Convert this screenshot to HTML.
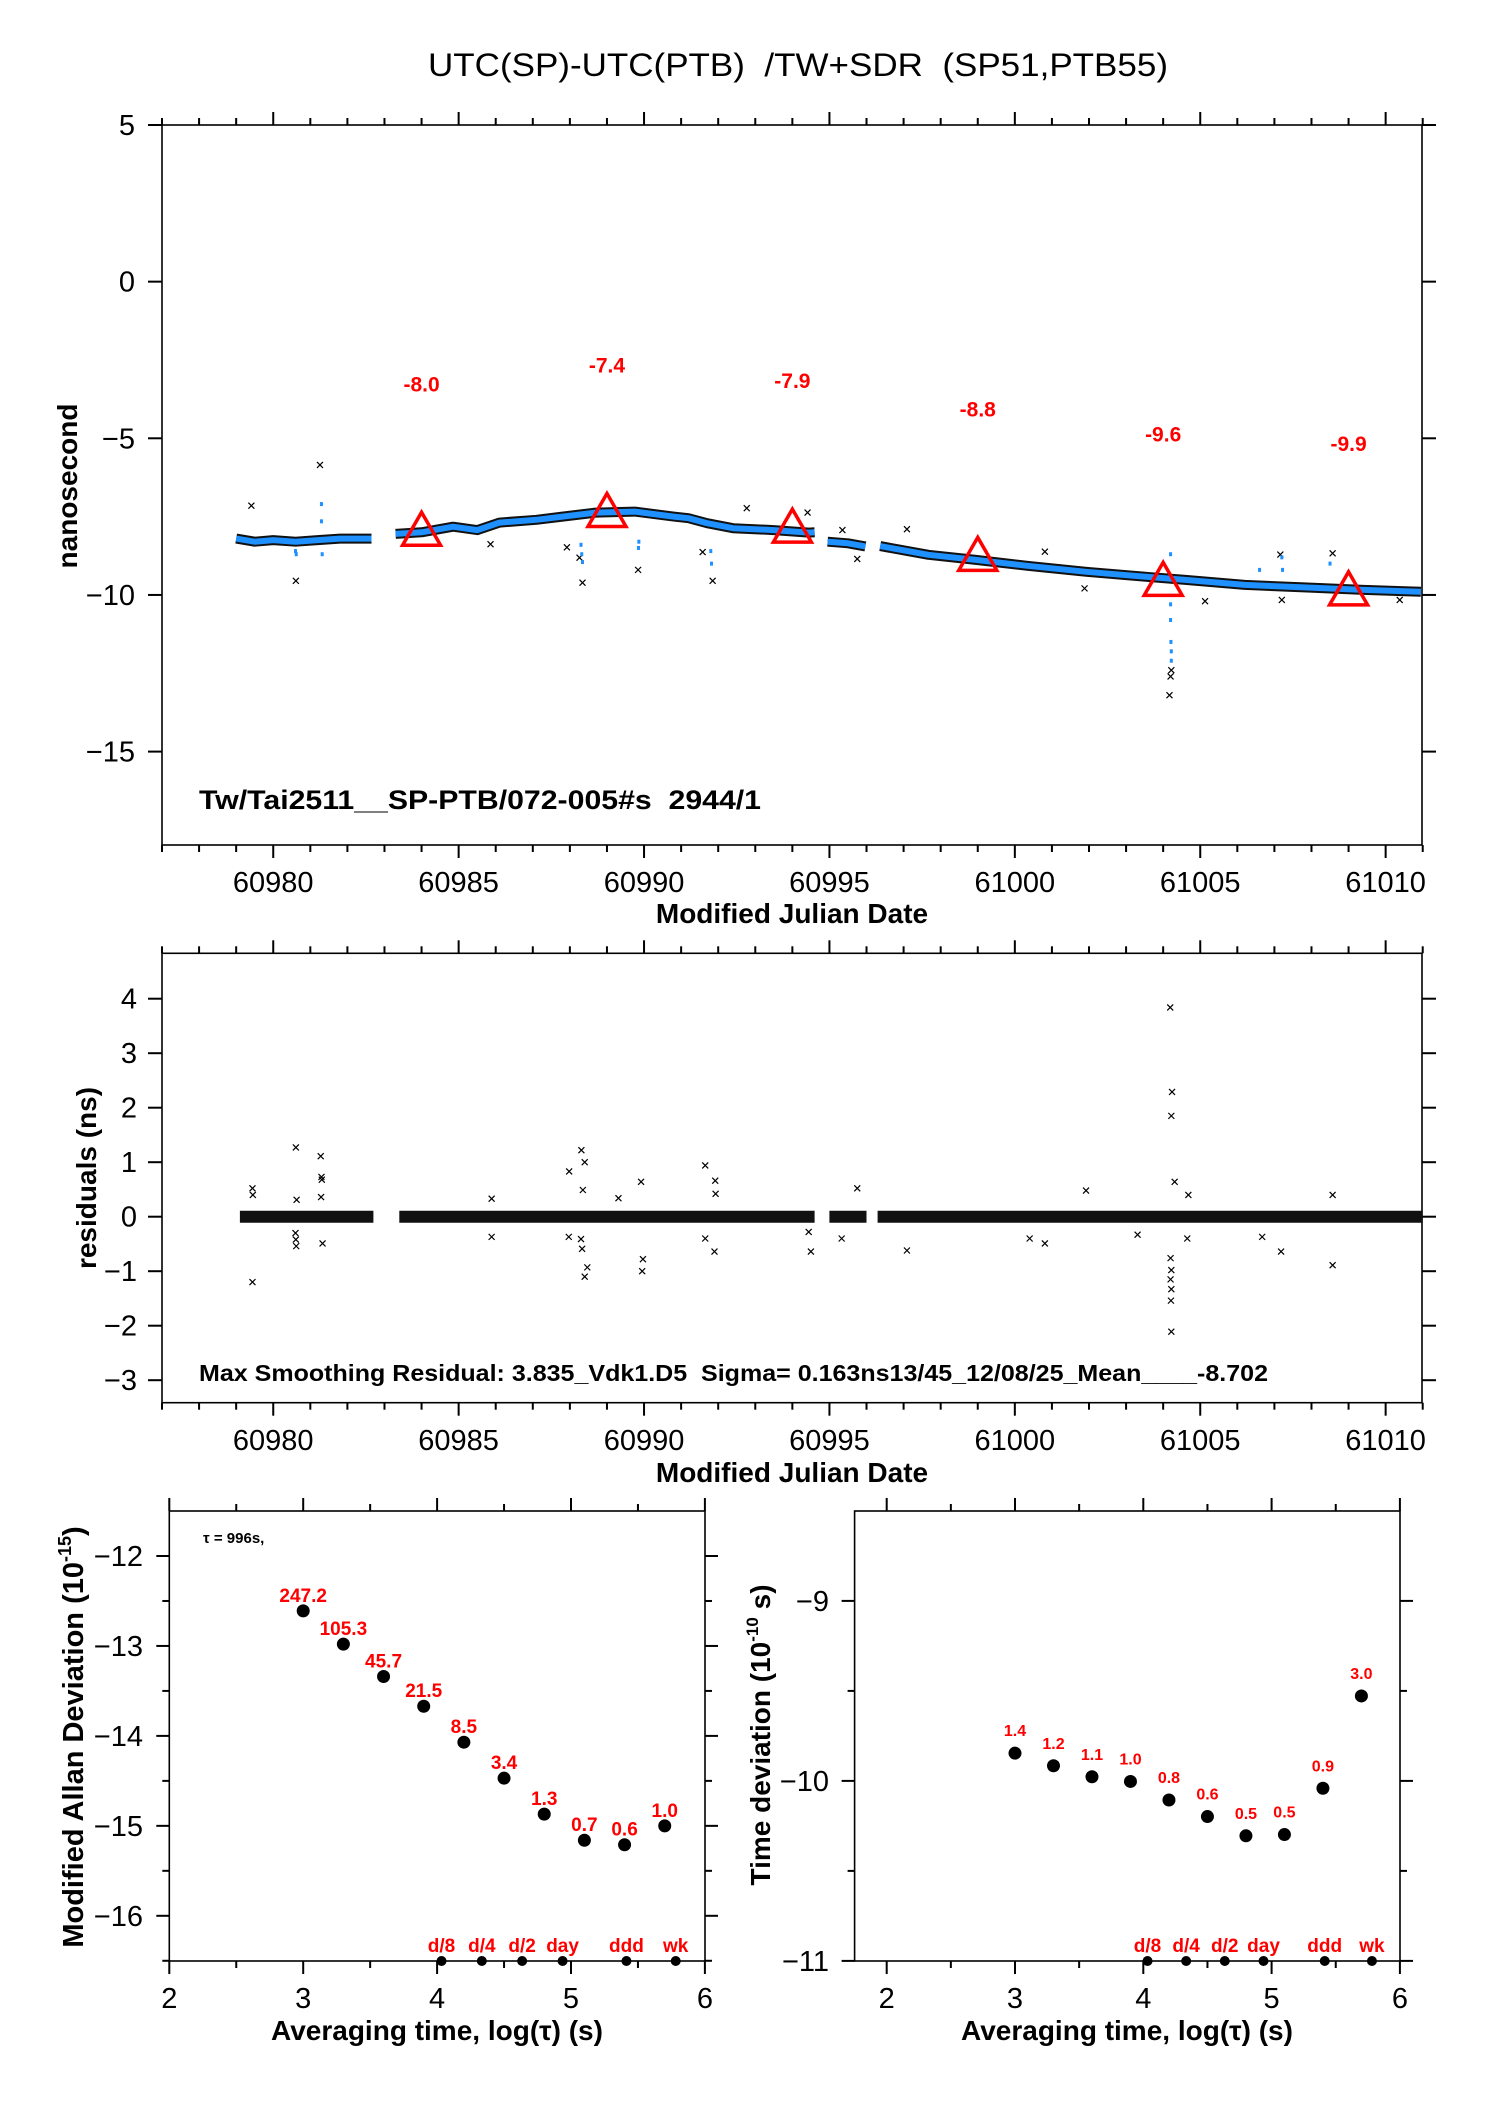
<!DOCTYPE html>
<html><head><meta charset="utf-8"><style>
html,body{margin:0;padding:0;background:#fff;}
svg{display:block;font-family:"Liberation Sans",Arial,sans-serif;}
</style></head><body>
<svg id="fig" xmlns="http://www.w3.org/2000/svg" width="1488" height="2105" viewBox="0 0 1488 2105">
<rect x="0" y="0" width="1488" height="2105" fill="#fff"/>
<text x="798" y="76" font-size="32" text-anchor="middle" xml:space="preserve" textLength="740" lengthAdjust="spacingAndGlyphs">UTC(SP)-UTC(PTB)  /TW+SDR  (SP51,PTB55)</text>
<g id="g1"></g>
<g id="g2"></g>
<g id="g3"></g>
<g id="g4"></g>
<text x="199" y="809" font-size="27" font-weight="bold" textLength="562" lengthAdjust="spacingAndGlyphs" xml:space="preserve">Tw/Tai2511__SP-PTB/072-005#s  2944/1</text>
<text x="199" y="1381" font-size="23" font-weight="bold" textLength="1069" lengthAdjust="spacingAndGlyphs" xml:space="preserve">Max Smoothing Residual: 3.835_Vdk1.D5  Sigma= 0.163ns13/45_12/08/25_Mean____-8.702</text>
<text x="792" y="923" font-size="28" font-weight="bold" text-anchor="middle">Modified Julian Date</text>
<text x="792" y="1482" font-size="28" font-weight="bold" text-anchor="middle">Modified Julian Date</text>
<text transform="translate(77,486) rotate(-90)" font-size="28" font-weight="bold" text-anchor="middle">nanosecond</text>
<text transform="translate(96,1178) rotate(-90)" font-size="28" font-weight="bold" text-anchor="middle">residuals (ns)</text>
<text transform="translate(83,1737) rotate(-90)" font-size="29" font-weight="bold" text-anchor="middle">Modified Allan Deviation (10<tspan font-size="18" dy="-12">-15</tspan><tspan dy="12">)</tspan></text>
<text transform="translate(770,1735) rotate(-90)" font-size="28" font-weight="bold" text-anchor="middle">Time deviation (10<tspan font-size="17" dy="-12">-10</tspan><tspan dy="12"> s)</tspan></text>
<text x="437" y="2040" font-size="28" font-weight="bold" text-anchor="middle">Averaging time, log(τ) (s)</text>
<text x="1127" y="2040" font-size="28" font-weight="bold" text-anchor="middle">Averaging time, log(τ) (s)</text>
<text x="203" y="1543" font-size="15" font-weight="bold">τ = 996s,</text>
</svg>
<script>
// ---------- data: top panel (MJD, ns) ----------
const segA_mjd=[60979.0,60979.5,60980.0,60980.6,60981.2,60981.8,60982.3,60982.65];
const segA_val=[-8.2,-8.3,-8.25,-8.3,-8.25,-8.2,-8.2,-8.2];
const segB_mjd=[60983.3,60984.0,60984.85,60985.5,60986.1,60987.1,60987.8,60988.7,60989.75,60990.8,60991.2,60991.7,60992.4,60993.5,60994.45,60994.6];
const segB_val=[-8.05,-8.0,-7.82,-7.93,-7.69,-7.6,-7.5,-7.37,-7.34,-7.5,-7.55,-7.71,-7.87,-7.93,-8.01,-8.0];
const segC_mjd=[60994.95,60995.5,60995.97];
const segC_val=[-8.3,-8.35,-8.45];
const segD_mjd=[60996.37,60997.67,60998.95,61000.34,61001.93,61003.54,61004.6,61006.2,61007.8,61009.4,61010.95];
const segD_val=[-8.44,-8.72,-8.88,-9.07,-9.26,-9.42,-9.52,-9.68,-9.76,-9.84,-9.9];
const outX_mjd=[60979.41,60981.26,60980.61,60985.86,60987.92,60988.26,60988.34,60989.84,60991.58,60991.85,60992.77,60994.41,60995.35,60995.75,60997.09,61000.81,61007.16,61008.57,61004.17,61004.2,61004.22,61005.13,61001.88,61007.2,61010.38];
const outX_val=[-7.15,-5.85,-9.55,-8.38,-8.48,-8.81,-9.61,-9.2,-8.63,-9.55,-7.23,-7.37,-7.93,-8.85,-7.9,-8.62,-8.71,-8.67,-13.2,-12.6,-12.4,-10.2,-9.79,-10.16,-10.16];
const outB_mjd=[60980.6,60980.62,60981.3,60981.3,60981.32,60988.3,60988.32,60988.34,60989.85,60989.86,60991.8,60991.82,61004.2,61004.2,61004.21,61004.22,61004.22,61004.2,61007.2,61007.22,61008.5,61006.6];
const outB_val=[-8.6,-8.7,-7.1,-7.65,-8.7,-8.4,-8.7,-8.95,-8.5,-8.3,-8.6,-9.0,-10.3,-10.8,-11.5,-11.8,-12.1,-8.7,-8.8,-9.2,-9.0,-9.2];
const triMjd=[60984,60989,60994,60999,61004,61009];
const triVals=[-8.0,-7.4,-7.9,-8.8,-9.6,-9.9];
const topYTicks=[5,0,-5,-10,-15];
const mjdTickLabels=[60980,60985,60990,60995,61000,61005,61010];
// ---------- data: residuals ----------
const resSeg_start=[60979.1,60983.4,60995.0,60996.3];
const resSeg_end=[60982.7,60994.6,60996.0,61011.0];
const resOut_mjd=[60980.61,60981.28,60981.3,60981.31,60979.44,60979.45,60980.63,60981.29,60979.44,60980.6,60980.61,60980.62,60981.33,60988.31,60988.4,60987.98,60988.35,60988.3,60988.33,60988.47,60988.4,60987.97,60989.92,60989.97,60989.95,60989.31,60991.65,60991.92,60991.93,60991.65,60991.9,60994.44,60994.5,60985.89,60985.89,61004.19,61004.24,61004.22,61004.31,61004.2,61004.22,61004.2,61004.22,61004.21,61004.22,60995.75,60995.33,60997.09,61001.92,61007.18,61008.57,61004.68,61008.57,61000.81,61000.4,61003.31,61006.67,61004.65];
const resOut_val=[1.27,1.11,0.73,0.68,0.52,0.4,0.31,0.36,-1.2,-0.3,-0.42,-0.54,-0.49,1.22,1.0,0.83,0.49,-0.41,-0.59,-0.93,-1.1,-0.37,0.64,-0.78,-1.0,0.34,0.94,0.66,0.42,-0.4,-0.64,-0.28,-0.64,0.33,-0.37,3.84,2.29,1.85,0.64,-0.76,-0.98,-1.15,-1.33,-1.54,-2.11,0.52,-0.4,-0.62,0.48,-0.64,-0.89,0.4,0.4,-0.49,-0.4,-0.33,-0.37,-0.4];
const resYTicks=[4,3,2,1,0,-1,-2,-3];
// ---------- data: stability ----------
const logTau=[3,3.3,3.6,3.9,4.2,4.5,4.8,5.1,5.4,5.7];
const madevLog=[-12.61,-12.98,-13.34,-13.67,-14.07,-14.47,-14.87,-15.16,-15.21,-15.0];
const madevLabels=["247.2","105.3","45.7","21.5","8.5","3.4","1.3","0.7","0.6","1.0"];
const logTauT=[3,3.3,3.6,3.9,4.2,4.5,4.8,5.1,5.4,5.7];
const tdevLog=[-9.846,-9.916,-9.977,-10.003,-10.106,-10.198,-10.305,-10.298,-10.041,-9.528];
const tdevLabels=["1.4","1.2","1.1","1.0","0.8","0.6","0.5","0.5","0.9","3.0"];
const markTau=[4.033,4.334,4.635,4.937,5.414,5.782];
const markLabels=["d/8","d/4","d/2","day","ddd","wk"];
const allanYTicks=[-12,-13,-14,-15,-16];
const tdevYTicks=[-9,-10,-11];
const logXTicks=[2,3,4,5,6];

const NS="http://www.w3.org/2000/svg";
function mk(parent,tag,attrs,txt){const e=document.createElementNS(NS,tag);for(const k in attrs)e.setAttribute(k,attrs[k]);if(txt!==undefined)e.textContent=txt;parent.appendChild(e);return e;}

const xT=m=>162+(m-60977)*37.08;
const yT=v=>125+(5-v)*31.33;
const yRs=v=>1216.7-v*54.5;
const xL=l=>169.3+(l-2)*133.9;
const yL=v=>1556+(-12-v)*89.95;
const xR=l=>886.7+(l-2)*128.3;
const yR=v=>1600.9+(-9-v)*180;

function frame(g,x0,y0,x1,y1,name){
  const r=mk(g,'rect',{x:x0,y:y0,width:x1-x0,height:y1-y0,fill:'none',stroke:'#000','stroke-width':1.6});
  
  
}
function tick(g,x1,y1,x2,y2){
  const t=mk(g,'line',{x1:x1,y1:y1,x2:x2,y2:y2,stroke:'#000','stroke-width':2});
  
  
}
function label(g,x,y,s,anchor,size,name){
  const t=mk(g,'text',{x:x,y:y,'font-size':size,'text-anchor':anchor},s);
  
  
}
function minus(v){return v<0?'\u2212'+Math.abs(v):String(v);}
function line(g,xs,ys,fx,fy,color,w,name){
  const d=xs.map((m,i)=>(i?'L':'M')+fx(m).toFixed(1)+' '+fy(ys[i]).toFixed(1)).join(' ');
  const p=mk(g,'path',{d:d,fill:'none',stroke:color,'stroke-width':w,'stroke-linejoin':'round','stroke-linecap':'butt'});
  
  
}
function xmark(g,x,y,name){
  const p=mk(g,'path',{d:`M${x-3} ${y-3}L${x+3} ${y+3}M${x-3} ${y+3}L${x+3} ${y-3}`,stroke:'#000','stroke-width':1.2});
  
  
}

// ---------- panel 1 ----------
const g1=document.getElementById('g1');
frame(g1,162,125,1422,845,'plot-frame-top');
for(let m=60977;m<=61011;m++){const maj=m%5===0;const L=maj?13:7;tick(g1,xT(m),125,xT(m),125-L);tick(g1,xT(m),845,xT(m),845+L);}
topYTicks.forEach(v=>{tick(g1,162,yT(v),148,yT(v));tick(g1,1422,yT(v),1436,yT(v));label(g1,135,yT(v)+10,minus(v),'end',29,'y-tick-label');});
mjdTickLabels.forEach(m=>label(g1,xT(m),892,String(m),'middle',29,'x-tick-label'));
[[segA_mjd,segA_val],[segB_mjd,segB_val],[segC_mjd,segC_val],[segD_mjd,segD_val]].forEach(s=>line(g1,s[0],s[1],xT,yT,'#111',10,'raw-data-band'));
outX_mjd.forEach((m,i)=>xmark(g1,xT(m),yT(outX_val[i]),'raw-outlier'));
[[segA_mjd,segA_val],[segB_mjd,segB_val],[segC_mjd,segC_val],[segD_mjd,segD_val]].forEach(s=>line(g1,s[0],s[1],xT,yT,'#1e90ff',6,'smoothed-data-band'));
outB_mjd.forEach((m,i)=>{const c=mk(g1,'rect',{x:xT(m)-1.5,y:yT(outB_val[i])-2,width:3,height:4,fill:'#1e90ff'});
  
  });
triMjd.forEach((m,i)=>{const x=xT(m),y=yT(triVals[i]);
  const p=mk(g1,'path',{d:`M${x} ${y-20}L${x+19} ${y+13}L${x-19} ${y+13}Z`,fill:'none',stroke:'#ff0000','stroke-width':3.5});
  
  
  const t=mk(g1,'text',{x:x,y:y-141,'font-size':21,'font-weight':'bold',fill:'#ff0000','text-anchor':'middle'},triVals[i].toFixed(1));
  
  });

// ---------- panel 2 ----------
const g2=document.getElementById('g2');
frame(g2,162,953.3,1422,1402.7,'plot-frame-residuals');
for(let m=60977;m<=61011;m++){const maj=m%5===0;const L=maj?13:7;tick(g2,xT(m),953.3,xT(m),953.3-L);tick(g2,xT(m),1402.7,xT(m),1402.7+L);}
resYTicks.forEach(v=>{tick(g2,162,yRs(v),148,yRs(v));tick(g2,1422,yRs(v),1436,yRs(v));label(g2,137,yRs(v)+10,minus(v),'end',29,'y-tick-label');});
mjdTickLabels.forEach(m=>label(g2,xT(m),1450,String(m),'middle',29,'x-tick-label'));
resSeg_start.forEach((s,i)=>line(g2,[s,resSeg_end[i]],[0,0],xT,yRs,'#111',12,'residual-band'));
resOut_mjd.forEach((m,i)=>xmark(g2,xT(m),yRs(resOut_val[i]),'residual-outlier'));

// ---------- panel 3 ----------
const g3=document.getElementById('g3');
frame(g3,169.3,1511,705,1961,'plot-frame-allan');
for(let l=2;l<=6.001;l+=0.5){const maj=Math.abs(l-Math.round(l))<0.01;const L=maj?13:7;tick(g3,xL(l),1511,xL(l),1511-L);tick(g3,xL(l),1961,xL(l),1961+L);}
for(let v=-12;v>=-16.5;v-=0.5){const maj=Math.abs(v-Math.round(v))<0.01;const L=maj?13:7;tick(g3,169.3,yL(v),169.3-L,yL(v));tick(g3,705,yL(v),705+L,yL(v));}
allanYTicks.forEach(v=>label(g3,143,yL(v)+10,minus(v),'end',29,'y-tick-label'));
logXTicks.forEach(l=>label(g3,xL(l),2008,String(l),'middle',29,'x-tick-label'));
logTau.forEach((l,i)=>{const c=mk(g3,'circle',{cx:xL(l),cy:yL(madevLog[i]),r:6.5,fill:'#000'});
  
  
  const t=mk(g3,'text',{x:xL(l),y:yL(madevLog[i])-9,'font-size':19,'font-weight':'bold',fill:'#ff0000','text-anchor':'middle'},madevLabels[i]);
  
  });
markTau.forEach((l,i)=>{const c=mk(g3,'circle',{cx:xL(l),cy:1961,r:5,fill:'#000'});
  
  
  const t=mk(g3,'text',{x:xL(l),y:1952,'font-size':19,'font-weight':'bold',fill:'#ff0000','text-anchor':'middle'},markLabels[i]);
  
  });

// ---------- panel 4 ----------
const g4=document.getElementById('g4');
frame(g4,854.6,1511,1400,1961,'plot-frame-tdev');
for(let l=2;l<=6.001;l+=0.5){const maj=Math.abs(l-Math.round(l))<0.01;const L=maj?13:7;tick(g4,xR(l),1511,xR(l),1511-L);tick(g4,xR(l),1961,xR(l),1961+L);}
for(let v=-9;v>=-11;v-=0.5){const maj=Math.abs(v-Math.round(v))<0.01;const L=maj?13:7;tick(g4,854.6,yR(v),854.6-L,yR(v));tick(g4,1400,yR(v),1400+L,yR(v));}
tdevYTicks.forEach(v=>label(g4,829,yR(v)+10,minus(v),'end',29,'y-tick-label'));
logXTicks.forEach(l=>label(g4,xR(l),2008,String(l),'middle',29,'x-tick-label'));
logTauT.forEach((l,i)=>{const c=mk(g4,'circle',{cx:xR(l),cy:yR(tdevLog[i]),r:6.5,fill:'#000'});
  
  
  const t=mk(g4,'text',{x:xR(l),y:yR(tdevLog[i])-17,'font-size':16,'font-weight':'bold',fill:'#ff0000','text-anchor':'middle'},tdevLabels[i]);
  
  });
markTau.forEach((l,i)=>{const c=mk(g4,'circle',{cx:xR(l),cy:1961,r:5,fill:'#000'});
  
  
  const t=mk(g4,'text',{x:xR(l),y:1952,'font-size':19,'font-weight':'bold',fill:'#ff0000','text-anchor':'middle'},markLabels[i]);
  
  });
</script>
</body></html>
